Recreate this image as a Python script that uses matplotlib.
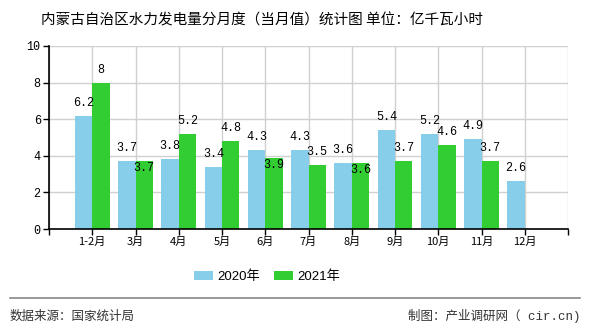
import matplotlib
matplotlib.use("Agg")
import matplotlib.pyplot as plt
from matplotlib.patches import Patch
import numpy as np

categories = ["1-2月", "3月", "4月", "5月", "6月", "7月", "8月", "9月", "10月", "11月", "12月"]
v2020 = [6.2, 3.7, 3.8, 3.4, 4.3, 4.3, 3.6, 5.4, 5.2, 4.9, 2.6]
v2021 = [8, 3.7, 5.2, 4.8, 3.9, 3.5, 3.6, 3.7, 4.6, 3.7, None]
series_names = ["2020年", "2021年"]
title = "内蒙古自治区水力发电量分月度（当月值）统计图 单位：亿千瓦小时"
source = "数据来源：国家统计局"
credit = "制图：产业调研网（ cir.cn)"

plt.rcParams['font.family'] = ['Noto Sans CJK SC', 'DejaVu Sans']

W, H = 590, 330
fig = plt.figure(figsize=(W/100, H/100), dpi=100)
ax = fig.add_axes([49/W, 1-229/H, (568-49)/W, (229-46)/H])

c1, c2 = "#87CEEB", "#32CD32"
x = np.arange(len(categories))
bw = 0.4
ax.bar(x - bw/2, v2020, width=bw, color=c1, zorder=3)
x2 = [xi for xi, v in zip(x, v2021) if v is not None]
y2 = [v for v in v2021 if v is not None]
ax.bar(np.array(x2) + bw/2, y2, width=bw, color=c2, zorder=3)

ax.set_xlim(-1, 11)
ax.set_ylim(0, 10)
ax.set_yticks(np.arange(0, 11, 2))
ax.set_yticklabels([str(v) for v in range(0, 11, 2)], family='Liberation Mono', fontsize=8.5)
ax.set_xticks(np.arange(-1, 12), minor=False)
ax.set_xticklabels([""] + categories + [""], fontsize=8)
ax.tick_params(axis='both', length=4, width=1, color='black', pad=2)
ax.grid(True, color='#d0d0d0', linewidth=1, zorder=0)
for s in ['top', 'right']:
    ax.spines[s].set_visible(False)
for s in ['left', 'bottom']:
    ax.spines[s].set_color('black')
    ax.spines[s].set_linewidth(1.2)
    ax.spines[s].set_zorder(4)

lab_kw = dict(ha='center', va='center', family='Liberation Mono', fontsize=8.5, color='black', zorder=5)
pt = 10/183  # data units per pixel
for xi, v in zip(x, v2020):
    ax.text(xi - bw/2, v + 13*pt, f"{v:g}", **lab_kw)
for xi, v, b in zip(x, v2021, v2020):
    if v is None:
        continue
    if abs(v - b) < 0.5:
        yy = v - 7*pt
    else:
        yy = v + 13*pt
    ax.text(xi + bw/2, yy, f"{v:g}", **lab_kw)

fig.text(262/W, 1-20/H, title, ha='center', va='center', fontsize=10.5, color='black')

handles = [Patch(facecolor=c1, edgecolor='none'), Patch(facecolor=c2, edgecolor='none')]
fig.legend(handles, series_names, loc='center', bbox_to_anchor=(267/W, 1-277/H), ncol=2,
           frameon=False, handlelength=1.45, handleheight=0.7,
           columnspacing=1.1, handletextpad=0.3,
           prop={'family': ['Liberation Sans', 'Noto Sans CJK SC'], 'size': 9.5})

fig.add_artist(plt.Line2D([10/W, 580/W], [1-298/H, 1-298/H], color='#888888', linewidth=1.2))
fig.text(10/W, 1-316/H, source, ha='left', va='center', fontsize=9, color='#333333')
fig.text(580/W, 1-316/H, credit, ha='right', va='center', fontsize=9, color='#333333',
         family=['Liberation Mono', 'Noto Sans CJK SC'])

fig.savefig("out.png", dpi=100)
